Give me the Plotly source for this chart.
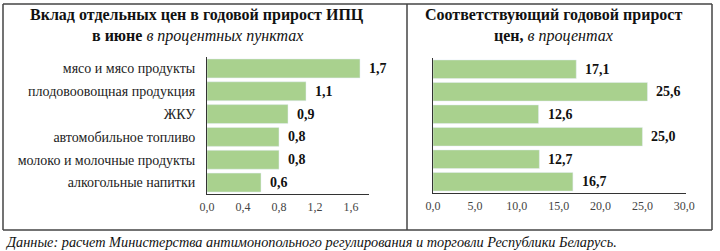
import plotly.graph_objects as go

categories = ["мясо и мясо продукты", "плодовоовощная продукция", "ЖКУ",
              "автомобильное топливо", "молоко и молочные продукты", "алкогольные напитки"]
contrib = [1.7, 1.1, 0.9, 0.8, 0.8, 0.6]
growth = [17.1, 25.6, 12.6, 25.0, 12.7, 16.7]
left_ticks = [0.0, 0.4, 0.8, 1.2, 1.6]
right_ticks = [0, 5, 10, 15, 20, 25, 30]

W, H = 720, 251
SERIF = "'Liberation Serif', 'Times New Roman', Times, serif"
GREEN = "#A9D18E"

def px(x):
    return x / W

def py(y):
    return 1 - y / H

fig = go.Figure()
fig.add_trace(go.Bar(x=contrib, y=categories, orientation="h", marker_color=GREEN,
                     xaxis="x", yaxis="y", hoverinfo="skip"))
fig.add_trace(go.Bar(x=growth, y=categories, orientation="h", marker_color=GREEN,
                     xaxis="x2", yaxis="y2", hoverinfo="skip"))

annotations = []
for c, v in zip(categories, contrib):
    annotations.append(dict(x=v, y=c, xref="x", yref="y", text="<b>%s</b>" % f"{v:.1f}".replace(".", ","),
                            showarrow=False, xanchor="left", xshift=7,
                            font=dict(family=SERIF, size=14, color="#111")))
for c, v in zip(categories, growth):
    annotations.append(dict(x=v, y=c, xref="x2", yref="y2", text="<b>%s</b>" % f"{v:.1f}".replace(".", ","),
                            showarrow=False, xanchor="left", xshift=7,
                            font=dict(family=SERIF, size=14, color="#111")))

# titles
annotations += [
    dict(x=px(197), y=py(15), xref="paper", yref="paper", showarrow=False, xanchor="center", yanchor="middle",
         text="<b>Вклад отдельных цен в годовой прирост ИПЦ</b>",
         font=dict(family=SERIF, size=16, color="#111")),
    dict(x=px(197), y=py(36), xref="paper", yref="paper", showarrow=False, xanchor="center", yanchor="middle",
         text="<b>в июне</b> <i>в процентных пунктах</i>",
         font=dict(family=SERIF, size=16, color="#111")),
    dict(x=px(553), y=py(15), xref="paper", yref="paper", showarrow=False, xanchor="center", yanchor="middle",
         text="<b>Соответствующий годовой прирост</b>",
         font=dict(family=SERIF, size=16, color="#111")),
    dict(x=px(553), y=py(36), xref="paper", yref="paper", showarrow=False, xanchor="center", yanchor="middle",
         text="<b>цен,</b> <i>в процентах</i>",
         font=dict(family=SERIF, size=16, color="#111")),
    dict(x=px(3), y=py(242), xref="paper", yref="paper", showarrow=False, xanchor="left", yanchor="middle",
         text="<i>Данные: расчет Министерства антимонопольного регулирования и торговли Республики Беларусь.</i>",
         font=dict(family=SERIF, size=14.3, color="#111")),
]

BOX = dict(color="#444", width=1.5)
shapes = []
for (x0, y0, x1, y1) in [(3, 4, 712, 4), (3, 230, 712, 230), (3, 4, 3, 230), (407, 4, 407, 230), (712, 4, 712, 230)]:
    shapes.append(dict(type="line", xref="paper", yref="paper", x0=px(x0), x1=px(x1), y0=py(y0), y1=py(y1),
                       line=BOX))

axis_common = dict(showgrid=False, zeroline=False, showline=True, linecolor="#333", linewidth=1,
                   ticks="", fixedrange=True)
xtickfont = dict(family=SERIF, size=12, color="#444")

fig.update_layout(
    width=W, height=H, margin=dict(l=0, r=0, t=0, b=0, autoexpand=False),
    paper_bgcolor="white", plot_bgcolor="white",
    font=dict(family=SERIF),
    showlegend=False, bargap=0.17, separators=", ",
    xaxis=dict(domain=[px(207), px(369)], range=[0, 1.8], tickvals=left_ticks, tickformat=".1f",
               anchor="y", tickfont=xtickfont, ticklabelstandoff=2, **axis_common),
    yaxis=dict(domain=[py(194), py(57)], autorange="reversed", anchor="x",
               tickfont=dict(family=SERIF, size=14, color="#222"), ticklabelstandoff=8, **axis_common),
    xaxis2=dict(domain=[px(433), px(686)], range=[0, 30.2], tickvals=right_ticks, tickformat=".1f",
                anchor="y2", tickfont=xtickfont, ticklabelstandoff=2, **axis_common),
    yaxis2=dict(domain=[py(193), py(58)], autorange="reversed", anchor="x2", showticklabels=False,
                **axis_common),
    annotations=annotations, shapes=shapes,
)

fig.write_html("out.html")
